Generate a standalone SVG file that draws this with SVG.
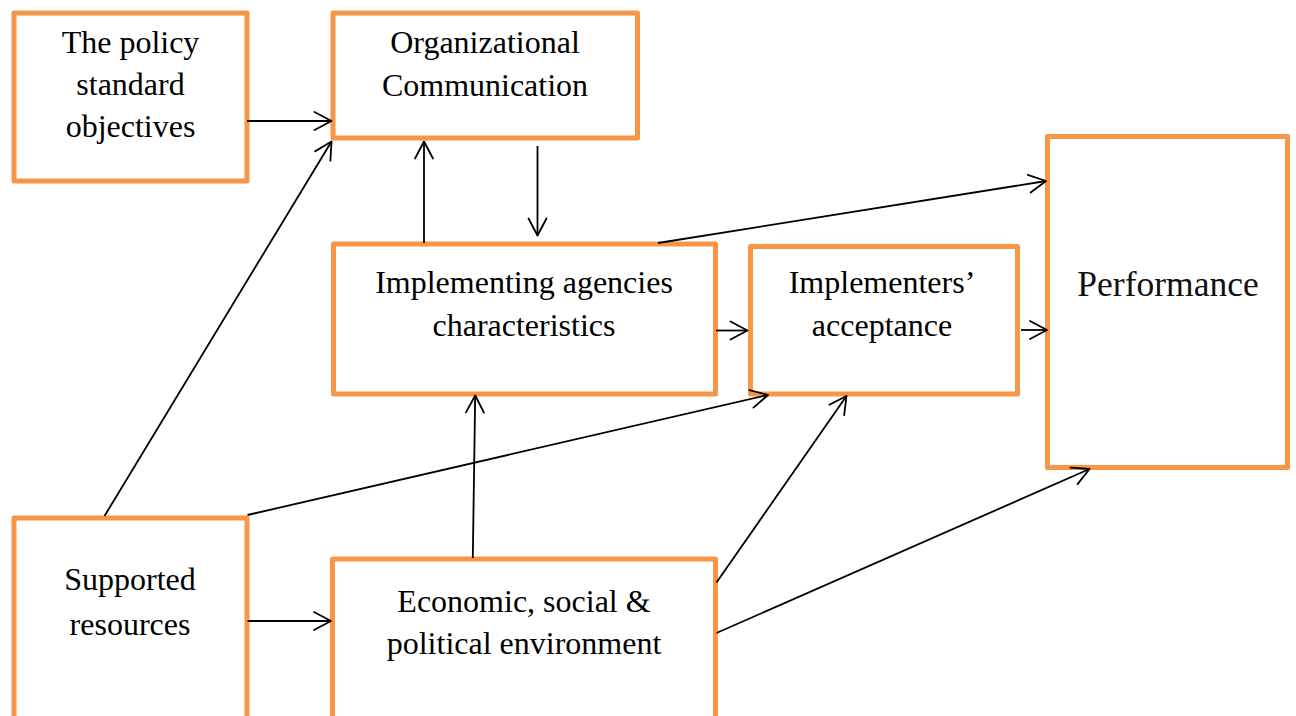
<svg xmlns="http://www.w3.org/2000/svg" width="1296" height="716" viewBox="0 0 1296 716">
  <style>
    .box { fill: #ffffff; stroke: #F79646; stroke-width: 5; stroke-linejoin: round; }
    .label { font-family: "Liberation Serif", "Times New Roman", serif; font-size: 32px; fill: #000000; text-anchor: middle; }
    .big { font-family: "Liberation Serif", "Book Antiqua", serif; font-size: 35.5px; fill: #111111; text-anchor: middle; }
    .link { fill: none; stroke: #000000; stroke-width: 1.8; marker-end: url(#arrow); }
  </style>
  <defs>
    <marker id="arrow" markerUnits="userSpaceOnUse" viewBox="-20 -12 22 24" markerWidth="22" markerHeight="24" refX="0" refY="0" orient="auto">
      <path d="M-17,-9 L0,0 L-17,9" fill="none" stroke="#000000" stroke-width="1.8" stroke-linecap="round" stroke-linejoin="round"/>
    </marker>
  </defs>
  <rect width="1296" height="716" fill="#ffffff"/>

  <g id="node-policy">
    <rect class="box" x="14" y="13" width="233" height="168"/>
    <text class="label" x="130.5" y="53">The policy</text>
    <text class="label" x="130.5" y="95">standard</text>
    <text class="label" x="130.5" y="137">objectives</text>
  </g>

  <g id="node-communication">
    <rect class="box" x="333" y="13" width="304.5" height="125"/>
    <text class="label" x="485" y="53">Organizational</text>
    <text class="label" x="485" y="96">Communication</text>
  </g>

  <g id="node-agencies">
    <rect class="box" x="333.5" y="244" width="382" height="150"/>
    <text class="label" x="524" y="293">Implementing agencies</text>
    <text class="label" x="524" y="336">characteristics</text>
  </g>

  <g id="node-acceptance">
    <rect class="box" x="750.5" y="246.5" width="267" height="147.5"/>
    <text class="label" x="882" y="293">Implementers’</text>
    <text class="label" x="882" y="336">acceptance</text>
  </g>

  <g id="node-performance">
    <rect class="box" x="1047.5" y="136.5" width="240" height="331"/>
    <text class="big" x="1168" y="296">Performance</text>
  </g>

  <g id="node-resources">
    <rect class="box" x="14" y="518" width="233" height="220"/>
    <text class="label" x="130" y="590">Supported</text>
    <text class="label" x="130" y="635">resources</text>
  </g>

  <g id="node-environment">
    <rect class="box" x="332.5" y="559" width="383" height="180"/>
    <text class="label" x="524" y="612">Economic, social &amp;</text>
    <text class="label" x="524" y="654">political environment</text>
  </g>

  <g id="connectors">
    <!-- policy -> communication -->
    <line class="link" x1="247" y1="121" x2="331.5" y2="121"/>
    <!-- resources -> communication -->
    <line class="link" x1="104.5" y1="516" x2="331.5" y2="141.5"/>
    <!-- agencies -> communication -->
    <line class="link" x1="424" y1="243" x2="424" y2="141.5"/>
    <!-- communication -> agencies -->
    <line class="link" x1="537.5" y1="146" x2="537.5" y2="235.5"/>
    <!-- agencies -> performance -->
    <line class="link" x1="658" y1="243" x2="1046" y2="181"/>
    <!-- agencies -> acceptance -->
    <line class="link" x1="716" y1="330.5" x2="747.5" y2="330.5"/>
    <!-- acceptance -> performance -->
    <line class="link" x1="1021" y1="330" x2="1047" y2="330"/>
    <!-- resources -> acceptance -->
    <line class="link" x1="247.5" y1="515" x2="768" y2="395"/>
    <!-- environment -> acceptance -->
    <line class="link" x1="716.5" y1="582.5" x2="846.5" y2="396"/>
    <!-- environment -> performance -->
    <line class="link" x1="716.5" y1="633" x2="1089.5" y2="469"/>
    <!-- environment -> agencies -->
    <line class="link" x1="472.8" y1="558" x2="475.2" y2="395.5"/>
    <!-- resources -> environment -->
    <line class="link" x1="247.5" y1="621" x2="331" y2="621"/>
  </g>
</svg>
